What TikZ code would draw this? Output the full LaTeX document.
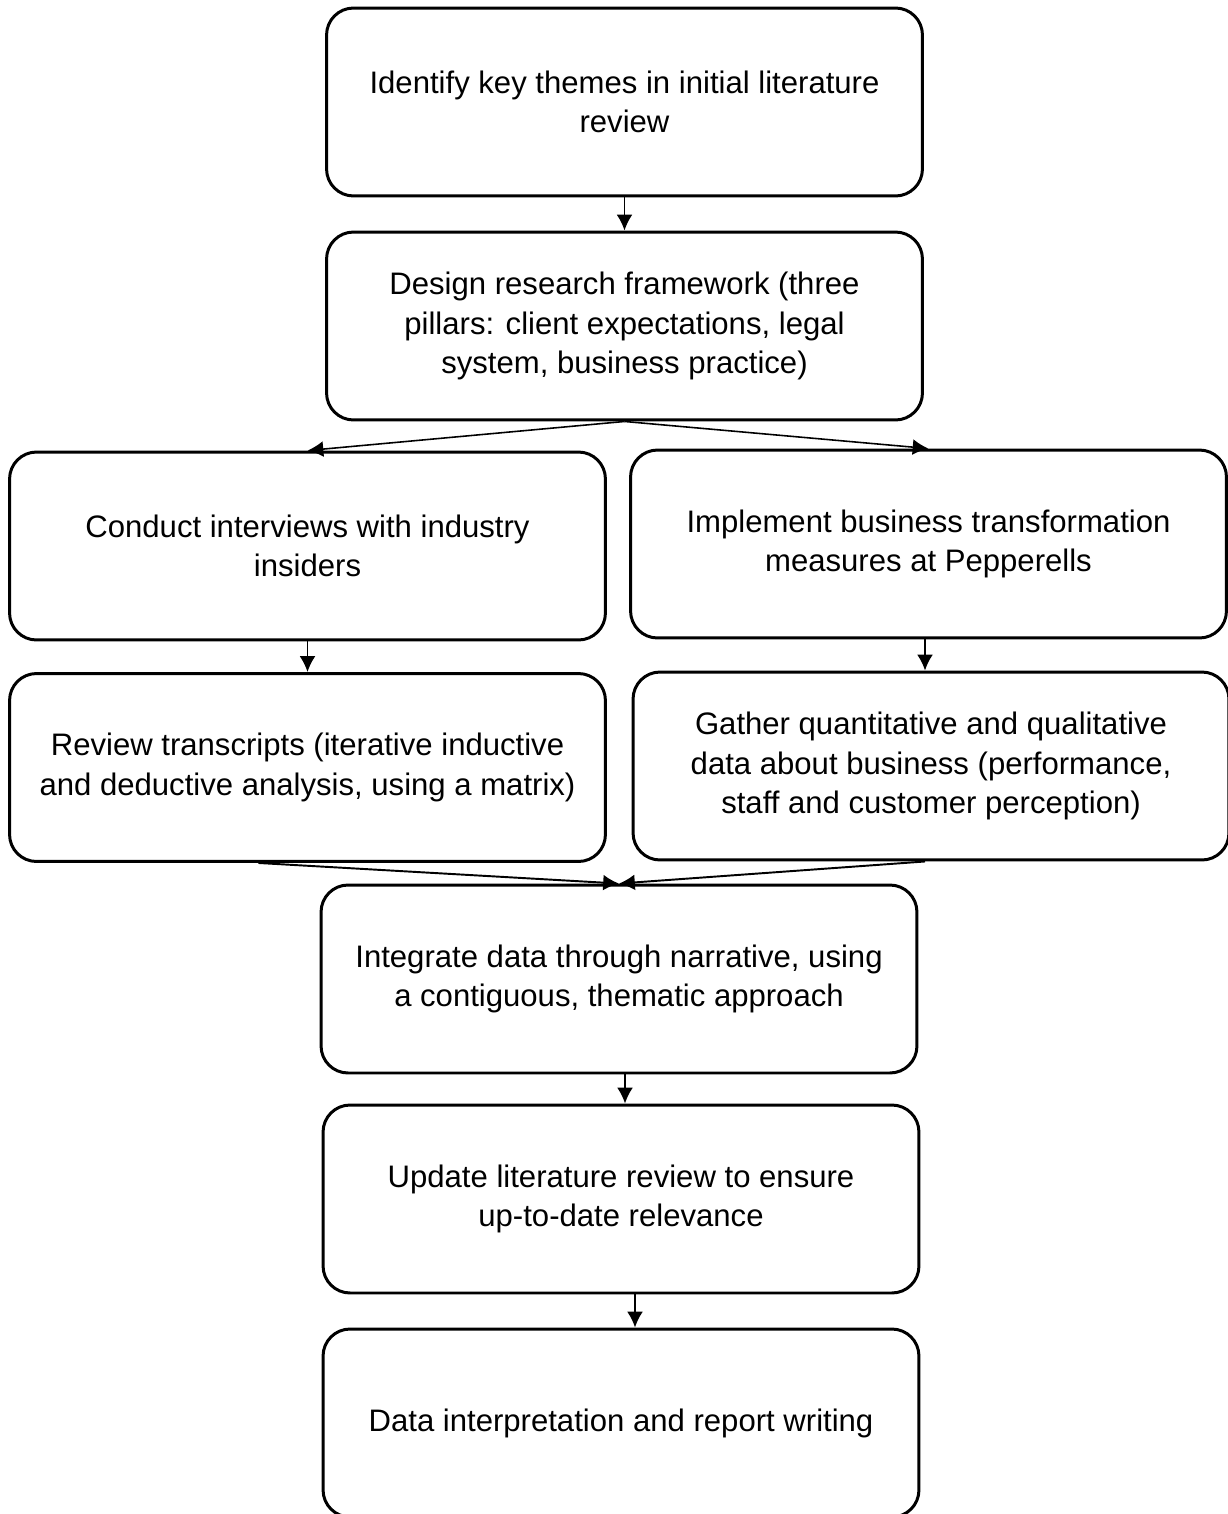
\documentclass[tikz,border=0pt]{standalone}
\usepackage{fontspec}
\setmainfont{Liberation Sans}
\usetikzlibrary{arrows.meta}

\begin{document}
\begin{tikzpicture}[x=0.02cm, y=-0.02cm, >={Latex[length=9pt,width=9pt]},
  bloc/.style={draw, line width=1.7pt, rounded corners=0.54cm, rectangle,
    minimum width=11.92cm, minimum height=3.76cm, align=center,
    font=\fontsize{17.7}{22.4}\selectfont},
  fleche/.style={line width=1.1pt}]
\useasboundingbox (0,0) rectangle (1227,1514);

\node(Ident)[bloc] at (624.5,102) {Identify key themes in initial literature\\review};
\node(Design)[bloc] at (624.5,326) {Design research framework (three\\pillars: client expectations, legal\\system, business practice)};

\node(Conduct)[bloc] at (307.5,546) {Conduct interviews with industry\\insiders};
\node(Impl)[bloc] at (928.5,544) {Implement business transformation\\measures at Pepperells};
\node(Review)[bloc] at (307.5,767.5) {Review transcripts (iterative inductive\\and deductive analysis, using a matrix)};
\node(Gather)[bloc] at (931,766) {Gather quantitative and qualitative\\data about business (performance,\\staff and customer perception)};

\node(Integ)[bloc] at (619,979) {Integrate data through narrative, using\\a contiguous, thematic approach};
\node(Update)[bloc] at (621,1199) {Update literature review to ensure\\up-to-date relevance};
\node(Report)[bloc] at (621,1423) {Data interpretation and report writing};

\draw[fleche] (Ident.south) edge[->] (Design.north);
\draw[line width=0.9pt] (Design.south) edge[->] (Conduct.north);
\draw[line width=0.9pt] (Design.south) edge[->] (Impl.north);
\draw[fleche] (Conduct.south) edge[->] (Review.north);
\draw[fleche] ([xshift=-0.07cm]Impl.south) edge[->] ([xshift=-0.07cm]Impl.south |- Gather.north);
\draw[fleche] ([xshift=-0.98cm]Review.south) edge[->] (Integ.north);
\draw[fleche] ([xshift=-0.12cm]Gather.south) edge[->] (Integ.north);
\draw[fleche] ([xshift=0.12cm]Integ.south) edge[->] ([xshift=0.12cm]Integ.south |- Update.north);
\draw[fleche] ([xshift=0.28cm]Update.south) edge[->] ([xshift=0.28cm]Update.south |- Report.north);
\end{tikzpicture}
\end{document}
